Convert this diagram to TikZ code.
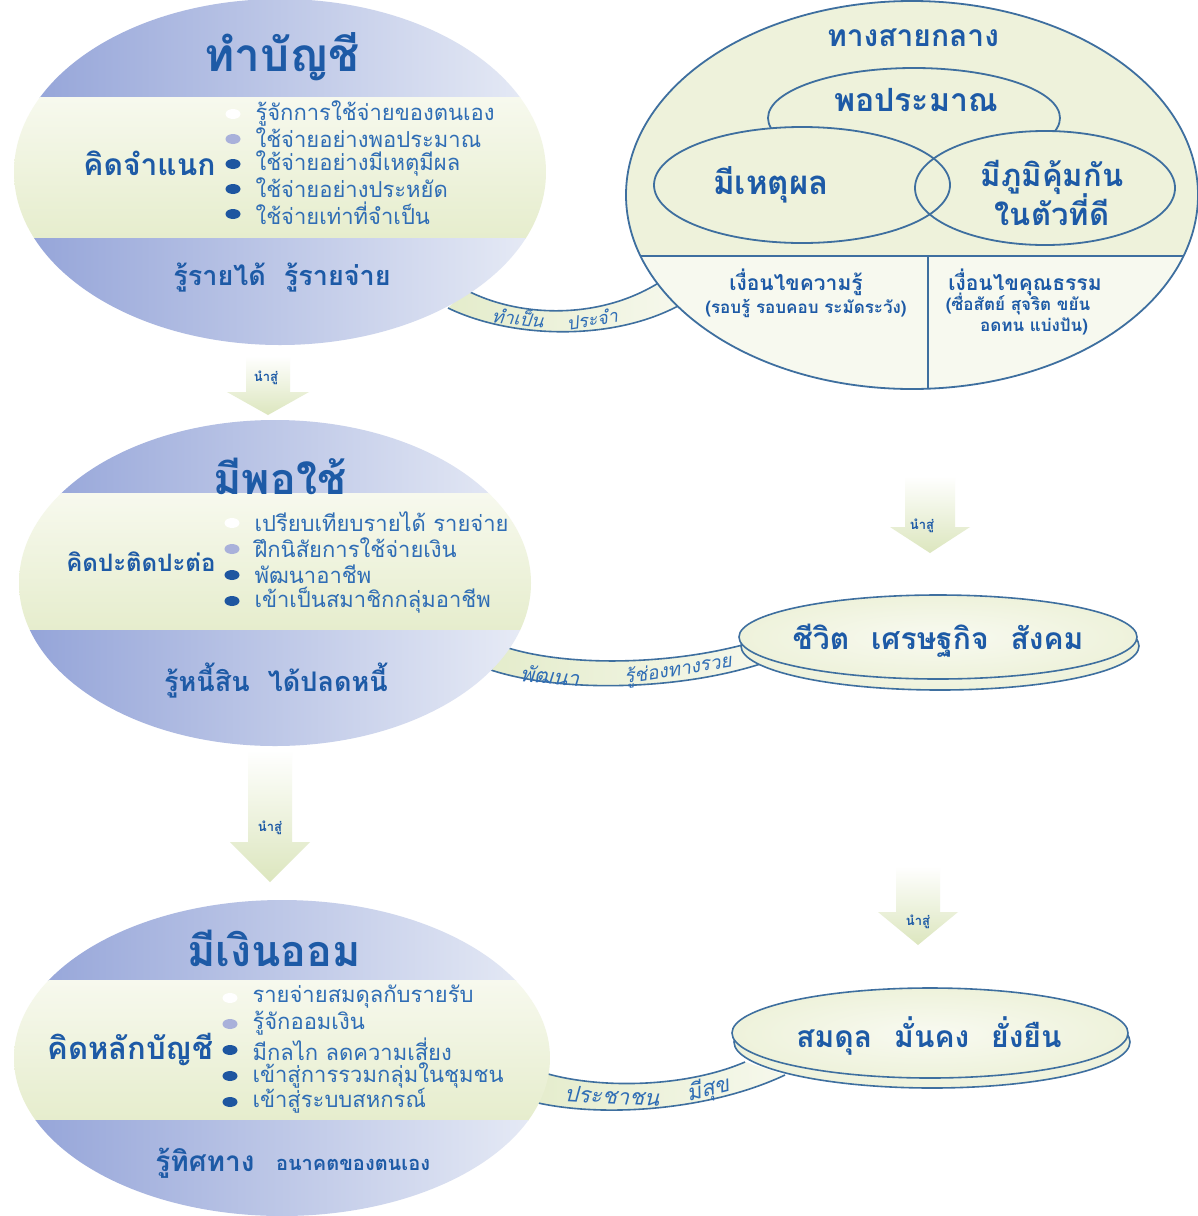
\documentclass[tikz,border=0pt]{standalone}
\usepackage{fontspec}
\newfontfamily\thaif[Script=Thai]{Loma}
\newfontfamily\thaisl[Script=Thai,FakeSlant=0.22]{Loma}
\usetikzlibrary{shapes.geometric,calc}
\definecolor{tblue}{HTML}{1D5AA6}
\definecolor{iblue}{HTML}{2F6DB5}
\definecolor{bblue}{HTML}{93A3D8}
\definecolor{bpale}{HTML}{E8ECF6}
\definecolor{gband}{HTML}{E6EDCD}
\definecolor{gpale}{HTML}{F7F9EE}
\definecolor{lineb}{HTML}{3E6F9F}
\definecolor{cfill}{HTML}{EEF2DB}
\definecolor{bulL}{HTML}{A9B1DA}
\definecolor{bulD}{HTML}{1E56A0}
\definecolor{agreen}{HTML}{DCE6BE}
\definecolor{ribL}{HTML}{E4ECCB}
\definecolor{ribR}{HTML}{F6F8EC}

\newcommand{\bandell}[6]{%
  \begin{scope}
    \clip (#1,#2) ellipse ({#3} and {#4});
    \shade[left color=bblue, right color=bpale] (#1-#3,#2-#4) rectangle (#1+#3,#5);
    \shade[top color=gpale, bottom color=gband] (#1-#3,#5) rectangle (#1+#3,#6);
    \shade[left color=bblue, right color=bpale] (#1-#3,#6) rectangle (#1+#3,#2+#4);
  \end{scope}}
\newcommand{\blockarr}[6]{%
  \shade[top color=white, bottom color=agreen]
    (#1-#5,#2) -- (#1+#5,#2) -- (#1+#5,#3) -- (#1+#6,#3) -- (#1,#4) -- (#1-#6,#3) -- (#1-#5,#3) -- cycle;}
\newcommand{\fs}[1]{\fontsize{#1}{#1}\selectfont}

\begin{document}
\begin{tikzpicture}[x=1pt,y=-1pt,
  title/.style={font=\thaif\bfseries, text=tblue},
  lab/.style={font=\thaif\bfseries, text=tblue, anchor=east},
  item/.style={font=\thaif\fs{22}, text=iblue, anchor=west},
  bot/.style={font=\thaif\bfseries, text=tblue},
  bul/.style={ellipse, minimum width=15, minimum height=10, inner sep=0pt},
  big/.style={font=\thaif\bfseries, text=tblue, align=center},
  cond/.style={font=\thaif\bfseries\fs{21}, text=tblue},
  condsm/.style={font=\thaif\bfseries\fs{17}, text=tblue},
  rib/.style={font=\thaisl\fs{18}, text=iblue, inner sep=0pt},
  arrtxt/.style={font=\thaif\bfseries\fs{13}, text=tblue},
  ribedge/.style={draw=lineb, line width=1.6pt},
  outl/.style={draw=lineb, line width=1.8pt}
]
\useasboundingbox (0,0) rectangle (1198,1216);
\fill[white] (0,0) rectangle (1198,1216);

% ---------- ribbons (connectors) ----------
\coordinate (r1a) at (450,300); \coordinate (r1b) at (670,294);
\shade[left color=ribL, right color=ribR]
  (466,290) .. controls (520,318) and (600,320) .. (660,282) -- (678,306)
  .. controls (610,342) and (510,338) .. (448,308) -- cycle;
\draw[ribedge] (466,290) .. controls (520,318) and (600,320) .. (660,282);
\draw[ribedge] (448,308) .. controls (510,338) and (610,342) .. (678,306);
\node[rib, rotate=-7] (r1t1) at (518,317) {ทำเป็น};
\node[rib, rotate=9] (r1t2) at (592,319) {ประจำ};

\coordinate (r2a) at (490,660); \coordinate (r2b) at (765,650);
\shade[left color=ribL, right color=ribR]
  (505,647) .. controls (570,668) and (680,665) .. (760,640) -- (772,660)
  .. controls (690,690) and (560,695) .. (485,668) -- cycle;
\draw[ribedge] (505,647) .. controls (570,668) and (680,665) .. (760,640);
\draw[ribedge] (485,668) .. controls (560,695) and (690,690) .. (772,660);
\node[rib, font=\thaisl\fs{21}, rotate=-5] (r2t1) at (550,676) {พัฒนา};
\node[rib, font=\thaisl\fs{19}, rotate=9] (r2t2) at (678,670) {รู้ช่องทางรวย};

\coordinate (r3a) at (520,1080); \coordinate (r3b) at (785,1070);
\shade[left color=ribL, right color=ribR]
  (525,1066) .. controls (580,1090) and (680,1090) .. (745,1062) -- (785,1075)
  .. controls (700,1115) and (580,1118) .. (520,1098) -- cycle;
\draw[ribedge] (525,1066) .. controls (580,1090) and (680,1090) .. (745,1062);
\draw[ribedge] (520,1098) .. controls (580,1118) and (700,1115) .. (785,1075);
\node[rib, font=\thaisl\fs{22}, rotate=-3] (r3t1) at (612,1096) {ประชาชน};
\node[rib, font=\thaisl\fs{22}, rotate=14] (r3t2) at (708,1090) {มีสุข};

% ---------- left ellipses ----------
\bandell{280}{172}{266}{173}{97}{238}
\node[ellipse, minimum width=532, minimum height=346, inner sep=0pt] (acc) at (280,172) {};
\bandell{275}{583}{256}{163}{493}{630}
\node[ellipse, minimum width=512, minimum height=326, inner sep=0pt] (enough) at (275,583) {};
\bandell{282}{1058}{268}{158}{980}{1120}
\node[ellipse, minimum width=536, minimum height=316, inner sep=0pt] (save) at (282,1058) {};

% ---------- middle-way circle ----------
\fill[cfill] (912,195) ellipse (286 and 194);
\node[ellipse, minimum width=572, minimum height=388, inner sep=0pt] (mid) at (912,195) {};
\filldraw[fill=cfill, outl] (914,118) ellipse (146 and 50);
\fill[cfill] (1045,188) ellipse (130 and 57);
\fill[cfill] (802,185) ellipse (148 and 58);
\draw[outl] (1045,188) ellipse (130 and 57);
\draw[outl] (802,185) ellipse (148 and 58);
\begin{scope}
  \clip (912,195) ellipse (286 and 194);
  \fill[white!55!cfill] (600,256) rectangle (1200,400);
  \draw[outl] (600,256) -- (1200,256);
  \draw[outl] (928,256) -- (928,400);
\end{scope}
\draw[outl] (912,195) ellipse (286 and 194);

% ---------- result discs ----------
\shade[inner color=white!70!cfill, outer color=cfill] (940,646) ellipse (199 and 44);
\draw[lineb, line width=1.6pt] (940,646) ellipse (199 and 44);
\shade[inner color=white!60!cfill, outer color=cfill] (938,637) ellipse (199 and 42);
\draw[lineb, line width=1.6pt] (938,637) ellipse (199 and 42);
\node[ellipse, minimum width=398, minimum height=92, inner sep=0pt] (life) at (939,641) {};

\shade[inner color=white!70!cfill, outer color=cfill] (932,1042) ellipse (198 and 46);
\draw[lineb, line width=1.6pt] (932,1042) ellipse (198 and 46);
\shade[inner color=white!60!cfill, outer color=cfill] (930,1033) ellipse (198 and 45);
\draw[lineb, line width=1.6pt] (930,1033) ellipse (198 and 45);
\node[ellipse, minimum width=396, minimum height=96, inner sep=0pt] (balance) at (931,1037) {};

% ---------- block arrows ----------
\blockarr{268}{356}{392}{415}{22}{41}
\node[arrtxt] (a1) at (266,378) {นำสู่};
\blockarr{930}{476}{527}{553}{25}{40}
\node[arrtxt] (a2) at (922,526) {นำสู่};
\blockarr{270}{750}{842}{882}{22}{40}
\node[arrtxt] (a3) at (270,828) {นำสู่};
\blockarr{918}{866}{912}{945}{22}{40}
\node[arrtxt] (a4) at (918,922) {นำสู่};

% ---------- texts: ellipse A ----------
\node[title, font=\thaif\bfseries\fs{46}] (accT) at (282,57) {ทำบัญชี};
\node[lab, font=\thaif\bfseries\fs{30}] (accL) at (219,163) {คิดจำแนก};
\node[bul, fill=white] (ab1) at (233,114) {};
\node[bul, fill=bulL] (ab2) at (233,139) {};
\node[bul, fill=bulD] (ab3) at (233,164) {};
\node[bul, fill=bulD] (ab4) at (233,189) {};
\node[bul, fill=bulD] (ab5) at (233,214) {};
\node[item] (ai1) at (252,113) {รู้จักการใช้จ่ายของตนเอง};
\node[item] (ai2) at (252,138) {ใช้จ่ายอย่างพอประมาณ};
\node[item] (ai3) at (252,163) {ใช้จ่ายอย่างมีเหตุมีผล};
\node[item] (ai4) at (252,188) {ใช้จ่ายอย่างประหยัด};
\node[item] (ai5) at (252,213) {ใช้จ่ายเท่าที่จำเป็น};
\node[bot, font=\thaif\bfseries\fs{27}] (accB) at (282,278) {รู้รายได้\hspace{18pt}รู้รายจ่าย};

% ---------- texts: ellipse B ----------
\node[title, font=\thaif\bfseries\fs{43}] (enT) at (280,476) {มีพอใช้};
\node[lab, font=\thaif\bfseries\fs{24}] (enL) at (219,562) {คิดปะติดปะต่อ};
\node[bul, fill=white] (bb1) at (232,523) {};
\node[bul, fill=bulL] (bb2) at (232,549) {};
\node[bul, fill=bulD] (bb3) at (232,575) {};
\node[bul, fill=bulD] (bb4) at (232,601) {};
\node[item] (bi1) at (251,522) {เปรียบเทียบรายได้ รายจ่าย};
\node[item] (bi2) at (251,548) {ฝึกนิสัยการใช้จ่ายเงิน};
\node[item] (bi3) at (251,574) {พัฒนาอาชีพ};
\node[item] (bi4) at (251,600) {เข้าเป็นสมาชิกกลุ่มอาชีพ};
\node[bot, font=\thaif\bfseries\fs{27}] (enB) at (276,681) {รู้หนี้สิน\hspace{18pt}ได้ปลดหนี้};

% ---------- texts: ellipse C ----------
\node[title, font=\thaif\bfseries\fs{43}] (svT) at (274,948) {มีเงินออม};
\node[lab, font=\thaif\bfseries\fs{31}] (svL) at (217,1050) {คิดหลักบัญชี};
\node[bul, fill=white] (cb1) at (230,998) {};
\node[bul, fill=bulL] (cb2) at (230,1024) {};
\node[bul, fill=bulD] (cb3) at (230,1050) {};
\node[bul, fill=bulD] (cb4) at (230,1076) {};
\node[bul, fill=bulD] (cb5) at (230,1102) {};
\node[item] (ci1) at (249,997) {รายจ่ายสมดุลกับรายรับ};
\node[item] (ci2) at (249,1023) {รู้จักออมเงิน};
\node[item] (ci3) at (249,1049) {มีกลไก ลดความเสี่ยง};
\node[item] (ci4) at (249,1075) {เข้าสู่การรวมกลุ่มในชุมชน};
\node[item] (ci5) at (249,1101) {เข้าสู่ระบบสหกรณ์};
\node[bot, font=\thaif\bfseries\fs{28}] (svB1) at (205,1163) {รู้ทิศทาง};
\node[bot, font=\thaif\bfseries\fs{20}] (svB2) at (353,1165) {อนาคตของตนเอง};

% ---------- texts: circle ----------
\node[big, font=\thaif\bfseries\fs{30}] (midT) at (913,38) {ทางสายกลาง};
\node[big, font=\thaif\bfseries\fs{32}] (m1) at (916,100) {พอประมาณ};
\node[big, font=\thaif\bfseries\fs{33}] (m2) at (771,185) {มีเหตุผล};
\node[big, font=\thaif\bfseries\fs{31}] (m3) at (1052,193) {มีภูมิคุ้มกัน\\[-2pt]ในตัวที่ดี};
\node[cond] (k1) at (796,282) {เงื่อนไขความรู้};
\node[condsm] (k2) at (806,308) {(รอบรู้ รอบคอบ ระมัดระวัง)};
\node[cond] (v1) at (1025,282) {เงื่อนไขคุณธรรม};
\node[condsm] (v2) at (1018,304) {(ซื่อสัตย์ สุจริต ขยัน};
\node[condsm] (v3) at (1034,326) {อดทน แบ่งปัน)};

% ---------- texts: discs ----------
\node[big, font=\thaif\bfseries\fs{30}] (lifeT) at (938,641) {ชีวิต\hspace{22pt}เศรษฐกิจ\hspace{22pt}สังคม};
\node[big, font=\thaif\bfseries\fs{30}] (balT) at (929,1036) {สมดุล\hspace{22pt}มั่นคง\hspace{22pt}ยั่งยืน};
\end{tikzpicture}
\end{document}
